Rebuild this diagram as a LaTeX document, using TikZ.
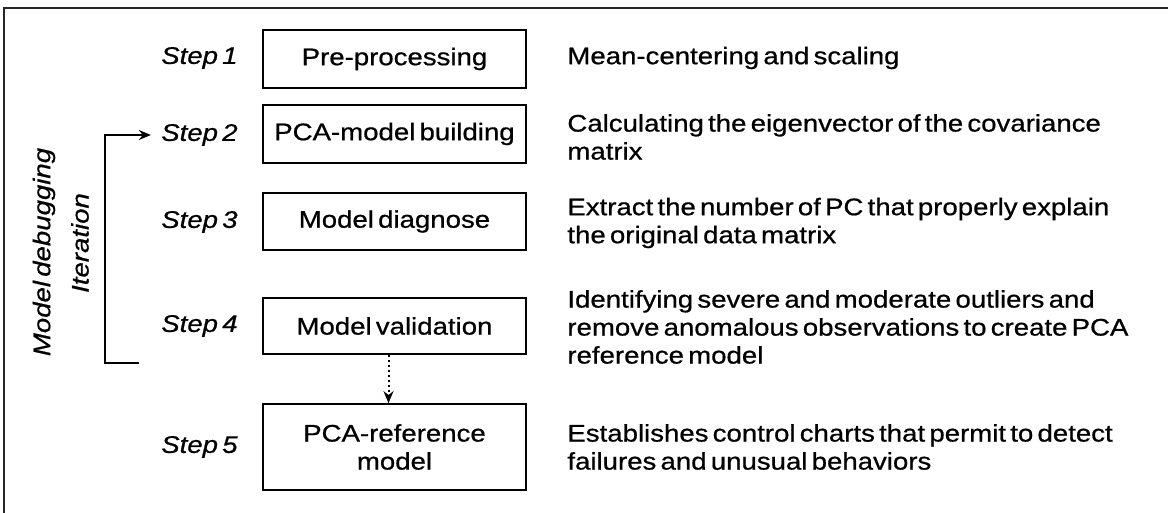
\documentclass[tikz,border=0pt]{standalone}
\usepackage{fontspec}
\setmainfont{Liberation Sans}[FakeStretch=1.15, WordSpace=0.55, FakeBold=0.7]
\usetikzlibrary{arrows.meta}
\begin{document}
\begin{tikzpicture}[x=0.5pt,y=-0.5pt,
  stepbox/.style={draw, line width=0.85pt, minimum width=131.5pt, inner sep=0pt, align=center, font=\fontsize{12}{14}\selectfont},
  steplabel/.style={anchor=east, inner sep=0pt, font=\fontsize{12}{14}\selectfont\itshape},
  desc/.style={anchor=west, inner sep=0pt, align=left, font=\fontsize{12}{14}\selectfont},
  side/.style={rotate=90, inner sep=0pt, font=\fontsize{12}{14}\selectfont\itshape}]
\useasboundingbox (0,0) rectangle (1168,513);
\draw[line width=1.1pt, color=black!85] (4,513) -- (4,8) -- (1168,8);

\node[stepbox, minimum height=29pt] (b1) at (394.5,59) {Pre-processing};
\node[stepbox, minimum height=29pt] (b2) at (394.5,134) {PCA-model building};
\node[stepbox, minimum height=28.5pt] (b3) at (394.5,221.5) {Model diagnose};
\node[stepbox, minimum height=28pt] (b4) at (394.5,326) {Model validation};
\node[stepbox, minimum height=43pt] (b5) at (394.5,447) {PCA-reference\\model};

\node[steplabel] (s1) at (238,58) {Step 1};
\node[steplabel] (s2) at (238,135) {Step 2};
\node[steplabel] (s3) at (238,222) {Step 3};
\node[steplabel] (s4) at (238,326) {Step 4};
\node[steplabel] (s5) at (238,447) {Step 5};

\node[desc] (d1) at (567,58) {Mean-centering and scaling};
\node[desc] (d2) at (567,137) {Calculating the eigenvector of the covariance\\matrix};
\node[desc] (d3) at (567,223) {Extract the number of PC that properly explain\\the original data matrix};
\node[desc] (d4) at (567,327) {Identifying severe and moderate outliers and\\remove anomalous observations to create PCA\\reference model};
\node[desc] (d5) at (567,447) {Establishes control charts that permit to detect\\failures and unusual behaviors};

\node[side] (m1) at (44,252) {Model debugging};
\node[side] (m2) at (80,243) {Iteration};

\coordinate (lb) at (139,363);
\draw[line width=0.8pt, -{Stealth[length=6pt,width=5pt]}] (lb) -- (105,363) |- ([xshift=-5pt]s2.west);
\draw[line width=1pt, dash pattern=on 1pt off 1.5pt, -{Stealth[length=6pt,width=5pt]}] ([xshift=-3pt]b4.south) -- ([xshift=-3pt]b5.north);
\end{tikzpicture}
\end{document}
